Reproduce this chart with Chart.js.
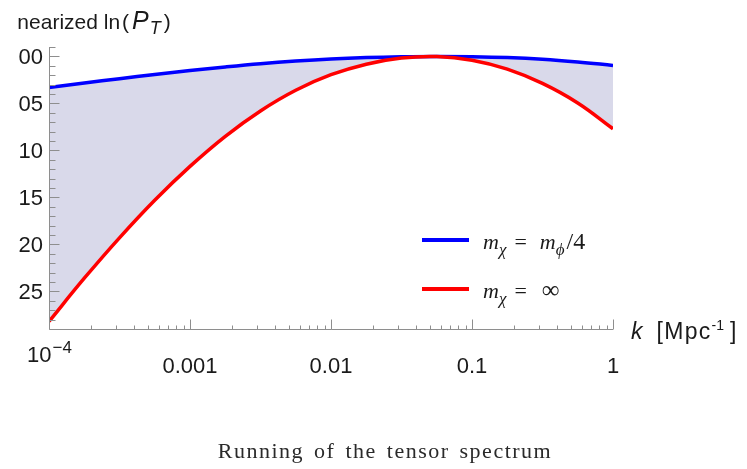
<!DOCTYPE html>
<html><head><meta charset="utf-8">
<script src="https://cdn.jsdelivr.net/npm/chart.js@4.4.1/dist/chart.umd.min.js"></script>
<style>
html,body{margin:0;padding:0;background:#fff;}
#clip{position:absolute;left:18px;top:0;width:729px;height:469px;overflow:hidden;background:#fff;}
#inner{position:absolute;left:-18px;top:0;width:747px;height:469px;}
canvas{position:absolute;left:0;top:0;}
.t{position:absolute;white-space:nowrap;color:#1a1a1a;font-family:"Liberation Sans",Arial,sans-serif;font-size:21px;line-height:21px;}
.s{position:relative;}
.leg{position:absolute;white-space:nowrap;color:#1a1a1a;font-family:"Liberation Serif","Times New Roman",serif;font-size:22px;line-height:22px;}
.lsub{position:relative;top:6px;font-size:17px;font-style:italic;}
.eq{margin:0 13px 0 8px;}
.bar{position:absolute;height:4px;width:47px;left:422px;}
#cap{position:absolute;left:185px;width:400px;top:440px;text-align:center;font-family:"Liberation Serif","Times New Roman",serif;font-size:22px;line-height:22px;letter-spacing:1.5px;word-spacing:3px;color:#2a2a2a;white-space:nowrap;}
</style></head>
<body>
<div id="clip"><div id="inner">
<canvas id="c" width="747" height="469"></canvas>
<div class="t" style="left:1px;top:10px;">Linearized ln<span style="margin-left:2px">(</span><i style="font-size:25px;margin-left:3px;">P</i><span class="s" style="top:5px;font-style:italic;font-size:18px;margin-left:1px;">T</span><span style="margin-left:3px">)</span></div>
<div class="t" style="left:631px;top:320px;font-size:23px;line-height:23px;"><i>k</i><span style="margin-left:14px;letter-spacing:1.3px;">[Mpc</span><span class="s" style="top:-9px;font-size:14px;">-1</span><span style="margin-left:6px">]</span></div>
<div class="bar" style="top:238px;background:#0000ff;"></div>
<div class="bar" style="top:287px;background:#ff0000;"></div>
<div class="leg" style="left:483px;top:230px;"><i>m</i><span class="lsub">χ</span><span class="eq">=</span><i>m</i><span class="lsub">ϕ</span><span style="margin-left:2px;font-size:24px;">/4</span></div>
<div class="leg" style="left:483px;top:279px;"><i>m</i><span class="lsub">χ</span><span class="eq" style="margin-right:15px">=</span><span style="font-size:25px">∞</span></div>
<div id="cap">Running of the tensor spectrum</div>
</div></div>
<script>
// ---- data ----
const kValues = [0.0001, 0.000178, 0.000316, 0.000562, 0.001, 0.00178, 0.00316, 0.00562, 0.01, 0.0178, 0.0316, 0.0562, 0.1, 0.178, 0.316, 0.562, 1];
const lnPTQuarter = [-0.033, -0.0283, -0.0237, -0.0192, -0.0150, -0.0112, -0.0078, -0.0050, -0.0028, -0.0013, -0.0004, 0.0, -0.0003, -0.0012, -0.0030, -0.0059, -0.0096];
const lnPTInfinite = [-0.282, -0.236, -0.193, -0.153, -0.117, -0.085, -0.058, -0.036, -0.0195, -0.0083, -0.0017, -0.0001, -0.0040, -0.0135, -0.0287, -0.0495, -0.077];
const xTickValues = [0.0001, 0.001, 0.01, 0.1, 1];
const xTickLabels = ['10^−4', '0.001', '0.01', '0.1', '1'];
const yTickValues = [0, -0.05, -0.10, -0.15, -0.20, -0.25];
const yTickLabels = ['0.00', '−0.05', '−0.10', '−0.15', '−0.20', '−0.25'];
const seriesLabels = ['m_χ = ∞', 'm_χ = m_ϕ/4'];

const toPts = arr => arr.map((v, i) => ({x: kValues[i], y: v}));

const axesPlugin = {
  id: 'mmaAxes',
  afterDatasetsDraw(chart) {
    const {ctx, chartArea: a, scales: {x, y}} = chart;
    ctx.save();
    ctx.strokeStyle = '#8e8e8e';
    ctx.lineWidth = 1;
    const L = (x1, y1, x2, y2) => { ctx.beginPath(); ctx.moveTo(x1, y1); ctx.lineTo(x2, y2); ctx.stroke(); };
    const bx = Math.round(a.left) + 0.5, by = Math.round(a.bottom) + 0.5;
    L(bx, a.top, bx, by);
    L(bx, by, a.right, by);
    for (let d = -4; d <= 0; d++) {
      for (let m = 1; m <= 9; m++) {
        const v = m * Math.pow(10, d);
        if (v > 1.000001) break;
        const px = Math.round(x.getPixelForValue(v)) + 0.5;
        L(px, by, px, by - (m === 1 ? 10 : 4));
      }
    }
    for (let i = 1; i >= -28; i--) {
      const py = Math.round(y.getPixelForValue(i / 100)) + 0.5;
      L(bx, py, bx + (i % 5 === 0 ? 10 : 6), py);
    }
    ctx.fillStyle = '#1a1a1a';
    ctx.textBaseline = 'alphabetic';
    ctx.font = '22px "Liberation Sans", Arial, sans-serif';
    ctx.textAlign = 'right';
    yTickValues.forEach((v, i) => {
      ctx.fillText(yTickLabels[i], a.left - 6, y.getPixelForValue(v) + 8);
    });
    xTickValues.forEach((v, i) => {
      const px = x.getPixelForValue(v);
      const lab = xTickLabels[i];
      if (lab.includes('^')) {
        const [b, e] = lab.split('^');
        ctx.font = '22px "Liberation Sans", Arial, sans-serif';
        const wb = ctx.measureText(b).width;
        ctx.font = '17px "Liberation Sans", Arial, sans-serif';
        const we = ctx.measureText(e).width;
        const x0 = px - (wb + we) / 2;
        ctx.textAlign = 'left';
        ctx.font = '22px "Liberation Sans", Arial, sans-serif';
        ctx.fillText(b, x0, 362);
        ctx.font = '17px "Liberation Sans", Arial, sans-serif';
        ctx.fillText(e, x0 + wb + 1, 353);
      } else {
        ctx.textAlign = 'center';
        ctx.font = '22px "Liberation Sans", Arial, sans-serif';
        ctx.fillText(lab, px, 373);
      }
    });
    ctx.restore();
  }
};

new Chart(document.getElementById('c'), {
  type: 'line',
  data: {
    datasets: [
      {
        label: seriesLabels[0],
        data: toPts(lnPTInfinite),
        borderColor: '#ff0000',
        borderWidth: 3.5,
        pointRadius: 0,
        tension: 0.4,
        fill: false
      },
      {
        label: seriesLabels[1],
        data: toPts(lnPTQuarter),
        borderColor: '#0000ff',
        borderWidth: 3.5,
        pointRadius: 0,
        tension: 0.4,
        fill: '-1',
        backgroundColor: '#d9d9ea'
      }
    ]
  },
  options: {
    responsive: false,
    animation: false,
    devicePixelRatio: 1,
    layout: {padding: {left: 49, right: 134, top: 47, bottom: 140}},
    plugins: {legend: {display: false}, tooltip: {enabled: false}},
    scales: {
      x: {type: 'logarithmic', min: 0.0001, max: 1, display: false},
      y: {type: 'linear', min: -0.29, max: 0.01, display: false}
    }
  },
  plugins: [axesPlugin]
});
</script>
</body></html>
